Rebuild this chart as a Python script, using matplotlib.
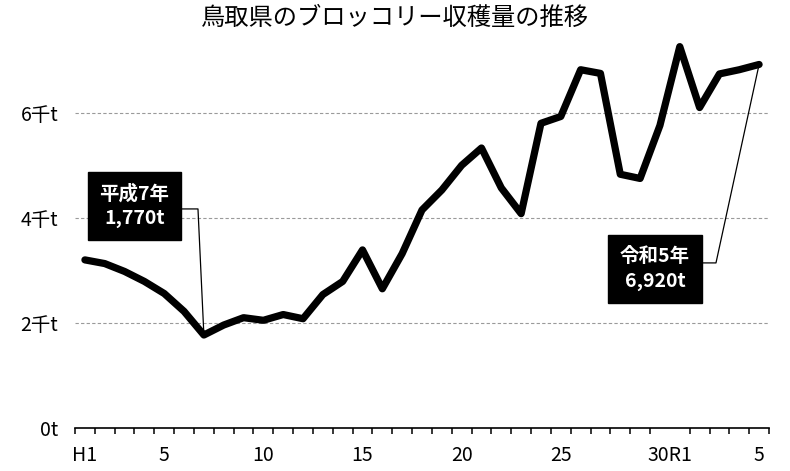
import matplotlib
matplotlib.use("Agg")
import matplotlib.pyplot as plt
import numpy as np

# ---- data ----
years = ["H1", "H2", "H3", "H4", "H5", "H6", "H7", "H8", "H9", "H10",
         "H11", "H12", "H13", "H14", "H15", "H16", "H17", "H18", "H19", "H20",
         "H21", "H22", "H23", "H24", "H25", "H26", "H27", "H28", "H29", "H30",
         "R1", "R2", "R3", "R4", "R5"]
harvest_t = [3200, 3130, 2980, 2790, 2560, 2220, 1770, 1960, 2100, 2050,
             2160, 2080, 2540, 2790, 3390, 2650, 3320, 4150, 4530, 5000,
             5330, 4570, 4080, 5800, 5930, 6820, 6750, 4830, 4750, 5760,
             7260, 6100, 6740, 6820, 6920]
xtick_pos = [0, 4, 9, 14, 19, 24, 29.5, 34]
xtick_labels = ["H1", "5", "10", "15", "20", "25", "30R1", "5"]
ytick_vals = [0, 2000, 4000, 6000]
ytick_labels = ["0t", "2千t", "4千t", "6千t"]
title = "鳥取県のブロッコリー収穫量の推移"
ann1_idx, ann1_text = 6, "平成7年\n1,770t"
ann2_idx, ann2_text = 34, "令和5年\n6,920t"

CJK = ["Noto Sans CJK JP", "DejaVu Sans"]
NARROW = ["Liberation Sans Narrow", "Noto Sans CJK JP", "DejaVu Sans"]
plt.rcParams["font.family"] = CJK

fig = plt.figure(figsize=(7.9, 4.71), dpi=100)
ax = fig.add_axes([75 / 790, 1 - 428 / 471, 694 / 790, 394 / 471])

x = np.arange(len(years))
ax.plot(x, harvest_t, color="black", lw=5.2, solid_joinstyle="round",
        solid_capstyle="round", zorder=3, clip_on=False)

ax.set_xlim(-0.5, len(years) - 0.5)
ax.set_ylim(0, 7500)

for v in ytick_vals[1:]:
    ax.axhline(v, color="#9a9a9a", lw=0.8, ls=(0, (3, 2)), zorder=1)

for s in ["top", "right", "left"]:
    ax.spines[s].set_visible(False)
ax.spines["bottom"].set_linewidth(1.2)

ax.set_yticks(ytick_vals)
ax.set_yticklabels(ytick_labels, family=NARROW, fontsize=14)
ax.tick_params(axis="y", length=0, pad=12)

ax.set_xticks(xtick_pos)
ax.set_xticklabels(xtick_labels, family=NARROW, fontsize=14)
ax.set_xticks(np.arange(-0.5, len(years)), minor=True)
ax.tick_params(axis="x", which="major", length=0, pad=12)
ax.tick_params(axis="x", which="minor", length=4, width=1.1, direction="out")

fig.text(0.5, 0.962, title, ha="center", va="center", fontsize=17.5,
         family=CJK)


def callout(idx, text, box_center, box_right, elbow):
    ax.text(box_center[0], box_center[1], text, transform=ax.transAxes,
            ha="center", va="center", color="white", fontsize=14,
            fontweight="bold", family=NARROW, linespacing=1.4, zorder=5,
            bbox=dict(boxstyle="square,pad=0.6", fc="black", ec="black"))
    pt = ax.transAxes.inverted().transform(
        ax.transData.transform((idx, harvest_t[idx])))
    ax.plot([box_right[0], elbow[0], pt[0]], [box_right[1], elbow[1], pt[1]],
            transform=ax.transAxes, color="black", lw=0.9, zorder=4,
            clip_on=False)


callout(ann1_idx, ann1_text, (0.0857, 0.5635), (0.154, 0.556), (0.1772, 0.556))
callout(ann2_idx, ann2_text, (0.8357, 0.4036), (0.905, 0.419), (0.9236, 0.419))

fig.savefig("out.png", dpi=100)
